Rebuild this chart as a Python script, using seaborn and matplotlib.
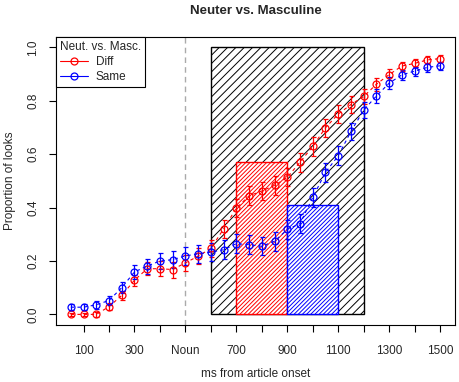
import numpy as np
import pandas as pd
import matplotlib
matplotlib.use('Agg')
import matplotlib.pyplot as plt
import seaborn as sns
from matplotlib.patches import Rectangle
from matplotlib.lines import Line2D

# time bins (ms from article onset)
ms = list(range(50, 1501, 50))

# proportion of looks
diff_prop = [0.000, 0.000, 0.000, 0.029, 0.071, 0.128, 0.171, 0.171, 0.168, 0.193,
             0.218, 0.247, 0.320, 0.398, 0.444, 0.462, 0.483, 0.513, 0.570, 0.629,
             0.699, 0.750, 0.786, 0.816, 0.862, 0.898, 0.930, 0.940, 0.953, 0.958]
same_prop = [0.027, 0.027, 0.036, 0.052, 0.100, 0.159, 0.181, 0.200, 0.205, 0.219,
             0.227, 0.233, 0.242, 0.265, 0.261, 0.255, 0.274, 0.318, 0.340, 0.438,
             0.532, 0.594, 0.685, 0.765, 0.818, 0.866, 0.897, 0.911, 0.925, 0.931]

# standard errors (half length of the bars)
diff_se = [0.006, 0.006, 0.008, 0.012, 0.016, 0.020, 0.025, 0.028, 0.030, 0.030,
           0.030, 0.032, 0.034, 0.035, 0.035, 0.034, 0.035, 0.034, 0.035, 0.035,
           0.034, 0.033, 0.030, 0.028, 0.024, 0.020, 0.017, 0.015, 0.014, 0.013]
same_se = [0.012, 0.012, 0.014, 0.016, 0.020, 0.025, 0.028, 0.030, 0.032, 0.033,
           0.033, 0.034, 0.035, 0.035, 0.035, 0.034, 0.035, 0.035, 0.035, 0.035,
           0.035, 0.035, 0.033, 0.030, 0.026, 0.022, 0.019, 0.017, 0.016, 0.015]

# analysis windows: (start, end, height)
window_all = (600, 1200, 1.0)
window_diff = (700, 900, 0.57)
window_same = (900, 1100, 0.41)

tick_pos = list(range(100, 1501, 100))
tick_lab = ['100', '', '300', '', 'Noun', '', '700', '', '900', '', '1100', '', '1300', '', '1500']

df = pd.DataFrame({
    'ms': ms * 2,
    'prop': diff_prop + same_prop,
    'se': diff_se + same_se,
    'cond': ['Diff'] * len(ms) + ['Same'] * len(ms),
})
colors = {'Diff': 'red', 'Same': 'blue'}

sns.set_theme(style='ticks')
plt.rcParams['font.family'] = ['Liberation Sans', 'DejaVu Sans']
plt.rcParams['hatch.linewidth'] = 0.7

fig = plt.figure(figsize=(4.59, 3.82), dpi=100)
ax = fig.add_axes([0.122, 0.149, 0.869, 0.755])

# hatched windows (agg: '////' ~ 8px spacing, '////////' ~ 4px)
x0, x1, h = window_all
ax.add_patch(Rectangle((x0, 0), x1 - x0, h, facecolor='none', edgecolor='black',
                       hatch='////', lw=1.0, zorder=1))
x0, x1, h = window_diff
ax.add_patch(Rectangle((x0, 0), x1 - x0, h, facecolor='white', edgecolor='red',
                       hatch='////////', lw=1.0, zorder=2))
x0, x1, h = window_same
ax.add_patch(Rectangle((x0, 0), x1 - x0, h, facecolor='white', edgecolor='blue',
                       hatch='////////', lw=1.0, zorder=2))

ax.axvline(500, color='#aaaaaa', ls=(0, (4, 3)), lw=1.0, zorder=1)

for cond in ['Diff', 'Same']:
    sub = df[df['cond'] == cond]
    c = colors[cond]
    sns.lineplot(data=sub, x='ms', y='prop', ax=ax, color=c, lw=0.8,
                 linestyle=(0, (3, 3)), marker='o', markersize=5,
                 markerfacecolor='none', markeredgecolor=c, markeredgewidth=0.9,
                 zorder=4)
    ax.errorbar(sub['ms'], sub['prop'], yerr=sub['se'], fmt='none', ecolor=c,
                elinewidth=0.9, capsize=1.8, capthick=0.9, zorder=3)

ax.set_xlim(-8, 1558)
ax.set_ylim(-0.04, 1.04)
ax.set_xticks(tick_pos)
ax.set_xticklabels(tick_lab, fontsize=8.5)
ax.set_yticks([0, 0.2, 0.4, 0.6, 0.8, 1.0])
ax.set_yticklabels(['0.0', '0.2', '0.4', '0.6', '0.8', '1.0'], fontsize=8.5,
                   rotation=90, va='center')
ax.tick_params(axis='both', length=5, width=0.8, color='black')
ax.tick_params(axis='x', pad=9)
ax.tick_params(axis='y', pad=7)
for s in ax.spines.values():
    s.set_linewidth(0.8)
    s.set_color('black')

ax.set_xlabel('ms from article onset', fontsize=8.5, labelpad=8)
ax.set_ylabel('Proportion of looks', fontsize=8.5, labelpad=8)
ax.set_title('Neuter vs. Masculine', fontsize=9.5, weight='bold', pad=16)

handles = [Line2D([], [], color=colors[k], lw=0.8, marker='o', markersize=5,
                  markerfacecolor='none', markeredgewidth=0.9) for k in ['Diff', 'Same']]
leg = ax.legend(handles, ['Diff', 'Same'], title='Neut. vs. Masc.', loc='upper left',
                borderaxespad=0, fancybox=False, edgecolor='black', framealpha=1,
                fontsize=8.5, title_fontsize=8.5, alignment='left',
                handlelength=2.4, borderpad=0.35, labelspacing=0.25,
                handletextpad=0.6)
leg.get_frame().set_linewidth(0.8)

plt.savefig('out.png', dpi=100)
plt.close()
